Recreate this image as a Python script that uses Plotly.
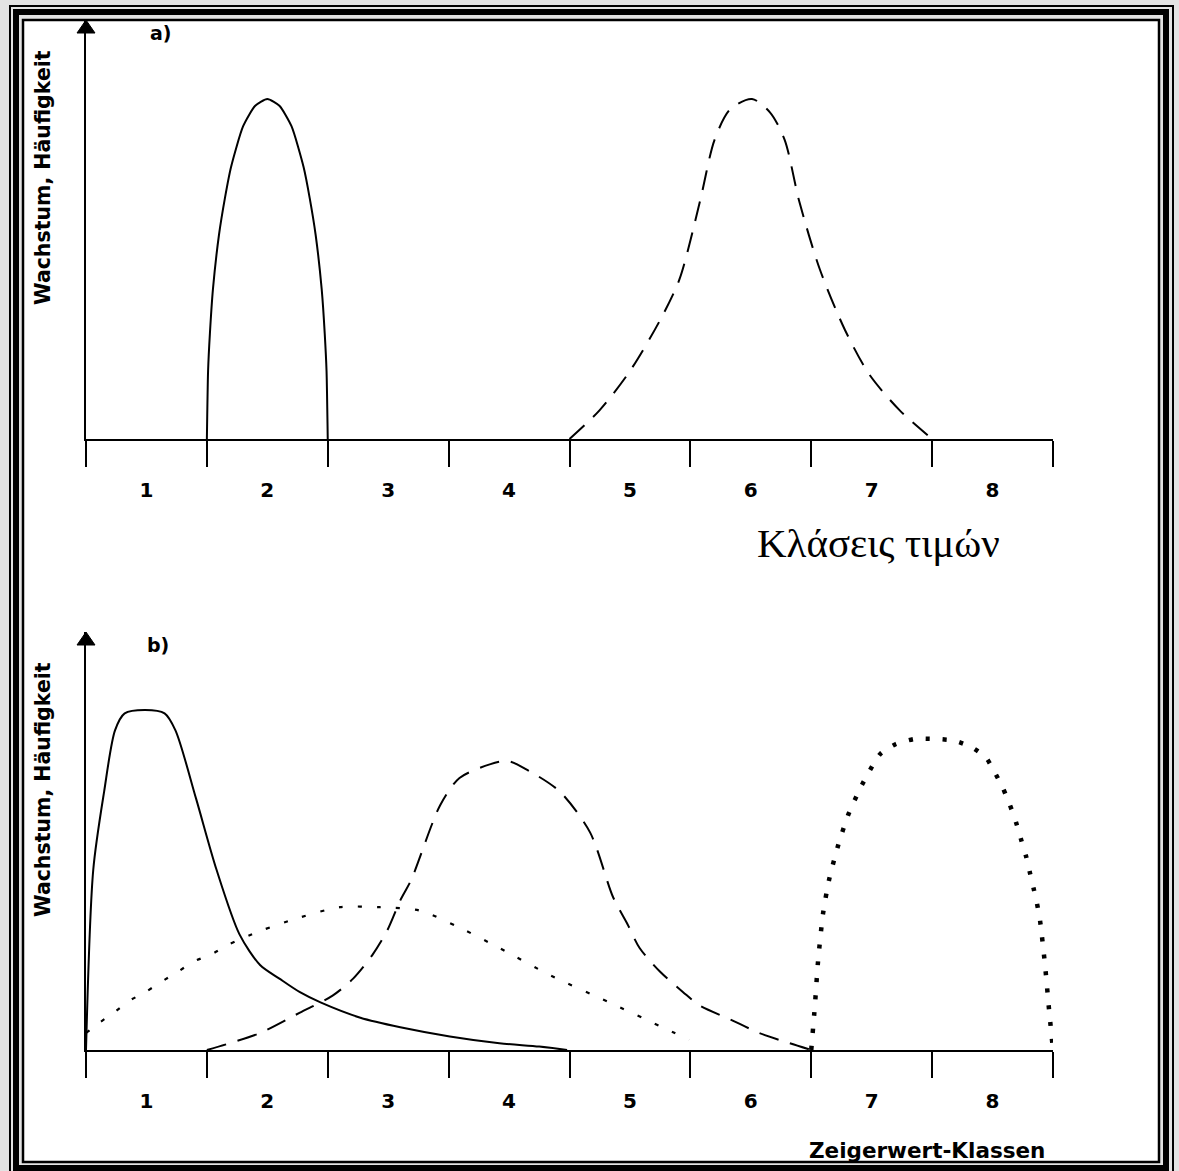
import plotly.graph_objects as go

# ---------------- data ----------------
class_labels = ["1", "2", "3", "4", "5", "6", "7", "8"]
class_centers = [1, 2, 3, 4, 5, 6, 7, 8]
class_bounds = [0.5, 1.5, 2.5, 3.5, 4.5, 5.5, 6.5, 7.5, 8.5]

# panel a) solid curve
a_solid_x = [1.5, 1.51, 1.525, 1.55, 1.6, 1.65, 1.7, 1.8, 1.9, 2.0, 2.1, 2.2, 2.3, 2.35, 2.4, 2.45, 2.475, 2.49, 2.5]
a_solid_y = [0.0, 0.20, 0.31, 0.44, 0.60, 0.71, 0.80, 0.92, 0.98, 1.0, 0.98, 0.92, 0.80, 0.71, 0.60, 0.44, 0.31, 0.20, 0.0]

# panel a) dashed curve
a_dash_x = [4.5, 4.75, 5.0, 5.25, 5.41, 5.58, 5.70, 5.83, 6.01, 6.16, 6.28, 6.40, 6.57, 6.78, 6.98, 7.23, 7.5]
a_dash_y = [0.0, 0.085, 0.20, 0.35, 0.47, 0.70, 0.88, 0.97, 1.0, 0.96, 0.88, 0.70, 0.50, 0.32, 0.19, 0.085, 0.0]

# panel b) solid curve
b_solid_x = [0.5, 0.56, 0.65, 0.74, 0.82, 0.99, 1.15, 1.24, 1.41, 1.58, 1.77, 1.94, 2.10, 2.27, 2.44, 2.77, 3.10, 3.51, 3.92, 4.25, 4.48]
b_solid_y = [0.0, 0.53, 0.76, 0.94, 0.99, 1.0, 0.99, 0.94, 0.74, 0.53, 0.34, 0.25, 0.21, 0.17, 0.14, 0.095, 0.067, 0.04, 0.02, 0.01, 0.0]

# panel b) fine dotted curve
b_fdot_x = [0.5, 0.61, 0.73, 0.86, 0.99, 1.12, 1.26, 1.39, 1.53, 1.68, 1.94, 2.27, 2.60, 2.93, 3.26, 3.59, 3.92, 4.34, 4.83, 5.25, 5.49]
b_fdot_y = [0.05, 0.08, 0.11, 0.145, 0.17, 0.20, 0.23, 0.26, 0.28, 0.31, 0.35, 0.39, 0.42, 0.42, 0.41, 0.36, 0.30, 0.22, 0.14, 0.07, 0.03]

# panel b) dashed curve
b_dash_x = [1.5, 1.69, 1.94, 2.27, 2.54, 2.71, 2.87, 2.99, 3.10, 3.19, 3.43, 3.59, 3.84, 3.99, 4.17, 4.42, 4.67, 4.86, 4.98, 5.08, 5.25, 5.44, 5.58, 5.83, 6.07, 6.32, 6.5]
b_dash_y = [0.0, 0.02, 0.05, 0.11, 0.16, 0.21, 0.28, 0.35, 0.44, 0.50, 0.72, 0.80, 0.84, 0.85, 0.82, 0.76, 0.64, 0.45, 0.37, 0.30, 0.23, 0.17, 0.13, 0.09, 0.05, 0.02, 0.0]

# panel b) thick dotted curve
b_tdot_x = [6.5, 6.53, 6.556, 6.597, 6.647, 6.721, 6.804, 6.92, 7.069, 7.201, 7.358, 7.524, 7.681, 7.83, 7.946,
            8.028, 8.086, 8.144, 8.194, 8.235, 8.277, 8.31, 8.343, 8.368, 8.393, 8.434, 8.467, 8.5]
b_tdot_y = [0.0, 0.13, 0.26, 0.40, 0.50, 0.60, 0.69, 0.78, 0.87, 0.90, 0.915, 0.915, 0.91, 0.89, 0.86,
            0.81, 0.77, 0.72, 0.67, 0.62, 0.57, 0.52, 0.47, 0.43, 0.38, 0.25, 0.12, 0.0]

y_label = "Wachstum, Häufigkeit"
panel_a = "a)"
panel_b = "b)"
greek_title = "Κλάσεις τιμών"
x_title = "Zeigerwert-Klassen"

# ---------------- layout geometry (pixels) ----------------
W, H = 1179, 1171
def PX(px):
    return px / W
def PY(py):
    return 1 - py / H

AX_L, AX_R = 86, 1053
UNIT = 340.0  # pixels per y unit
A_BASE, A_TOP = 439, 20
B_BASE, B_TOP = 1050, 632

SANS = "DejaVu Sans"

fig = go.Figure()

def add_line(x, y, ax, width=2, dash=None, shape="spline", smoothing=0.8):
    line = dict(color="black", width=width, shape=shape)
    if shape == "spline":
        line["smoothing"] = smoothing
    if dash:
        line["dash"] = dash
    fig.add_trace(go.Scatter(x=x, y=y, mode="lines", line=line,
                             xaxis="x" if ax == 1 else "x2", yaxis="y" if ax == 1 else "y2",
                             hoverinfo="skip", showlegend=False))

add_line(a_solid_x, a_solid_y, 1, width=2, smoothing=0.6)
add_line(a_dash_x, a_dash_y, 1, width=2, dash="20px,12px")
add_line(b_solid_x, b_solid_y, 2, width=2)
add_line(b_fdot_x, b_fdot_y, 2, width=2.2, dash="4px,15px")
add_line(b_dash_x, b_dash_y, 2, width=2, dash="20px,12px")
add_line(b_tdot_x, b_tdot_y, 2, width=4.5, dash="4px,13px", smoothing=0.6)

def xaxis_cfg(anchor):
    return dict(
        domain=[PX(AX_L), PX(AX_R)], range=[0.5, 8.5], anchor=anchor,
        showline=True, linecolor="black", linewidth=2, mirror=False,
        showgrid=False, zeroline=False,
        tickmode="array", tickvals=class_centers, ticktext=class_labels, ticks="",
        ticklabelstandoff=32,
        tickfont=dict(family=SANS, size=20, color="black", weight="bold"),
        minor=dict(tickmode="array", tickvals=class_bounds, ticks="outside", ticklen=26, tickwidth=2, tickcolor="black", showgrid=False),
        fixedrange=True,
    )

def yaxis_cfg(base, top, anchor):
    return dict(
        domain=[PY(base), PY(top)], range=[0, (base - top) / UNIT], anchor=anchor,
        showline=True, linecolor="black", linewidth=2,
        showgrid=False, zeroline=False, showticklabels=False, ticks="", fixedrange=True,
    )

shapes = []
shapes.append(dict(type="rect", xref="paper", yref="paper", x0=PX(23), x1=PX(1159), y0=PY(1162), y1=PY(20),
                   line=dict(width=0), fillcolor="white", layer="below"))
shapes.append(dict(type="rect", xref="paper", yref="paper", x0=PX(10), x1=PX(1173), y0=PY(1176), y1=PY(6),
                   line=dict(color="black", width=2), fillcolor="rgba(0,0,0,0)", layer="below"))
shapes.append(dict(type="rect", xref="paper", yref="paper", x0=PX(16), x1=PX(1166), y0=PY(1168), y1=PY(12),
                   line=dict(color="black", width=6), fillcolor="rgba(0,0,0,0)", layer="below"))
shapes.append(dict(type="rect", xref="paper", yref="paper", x0=PX(23), x1=PX(1159), y0=PY(1162), y1=PY(20),
                   line=dict(color="black", width=2.5), fillcolor="rgba(0,0,0,0)", layer="below"))
for top in (A_TOP, B_TOP):
    shapes.append(dict(type="path", xref="paper", yref="paper",
                       path=f"M {PX(AX_L-9)},{PY(top+13)} L {PX(AX_L+9)},{PY(top+13)} L {PX(AX_L)},{PY(top)} Z",
                       fillcolor="black", line=dict(color="black", width=1)))

def ann(text, px, py, size, family=SANS, bold=True, angle=0, xanchor="center"):
    f = dict(family=family, size=size, color="black")
    if bold:
        f["weight"] = "bold"
    return dict(text=text, x=PX(px), y=PY(py), xref="paper", yref="paper", showarrow=False,
                textangle=angle, xanchor=xanchor, yanchor="middle", font=f)

annotations = [
    ann(panel_a, 161, 33, 19),
    ann(panel_b, 158, 645, 19),
    ann(y_label, 43, 178, 20.5, angle=-90),
    ann(y_label, 43, 790, 20.5, angle=-90),
    ann(greek_title, 879, 543, 41, family="Liberation Serif", bold=False),
    ann(x_title, 1047, 1150, 21.5, xanchor="right"),
]

fig.update_layout(
    width=W, height=H, margin=dict(l=0, r=0, t=0, b=0),
    paper_bgcolor="#e3e3e3", plot_bgcolor="rgba(0,0,0,0)",
    xaxis=xaxis_cfg("y"), yaxis=yaxis_cfg(A_BASE, A_TOP, "x"),
    xaxis2=xaxis_cfg("y2"), yaxis2=yaxis_cfg(B_BASE, B_TOP, "x2"),
    shapes=shapes, annotations=annotations, showlegend=False,
)

fig.write_html("out.html", config=dict(displayModeBar=False),
               post_script="document.body.style.margin='0';document.body.style.overflow='hidden';")
